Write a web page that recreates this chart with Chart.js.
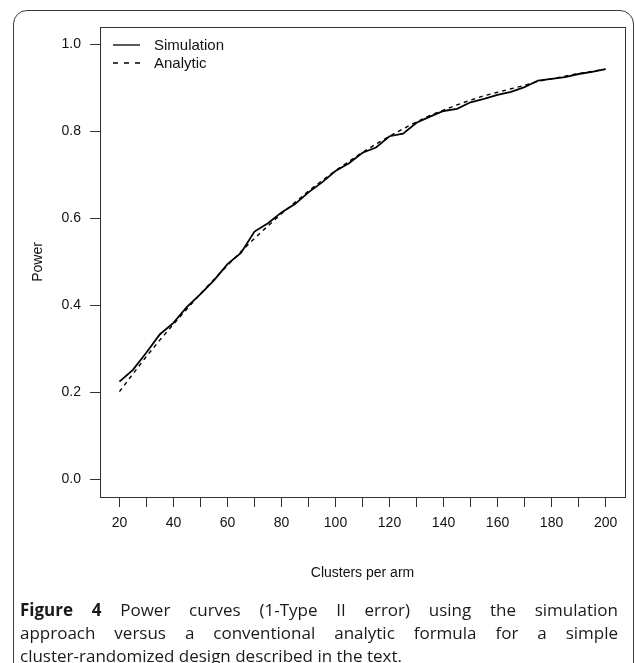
<!DOCTYPE html>
<html><head><meta charset="utf-8">
<script src="https://cdn.jsdelivr.net/npm/chart.js@4.4.1/dist/chart.umd.min.js"></script>
<style>
html,body{margin:0;padding:0;background:#fff;}
#wrap{position:relative;width:635px;height:663px;overflow:hidden;background:#fff;}
#frame{position:absolute;left:13px;top:10px;width:621px;height:720px;border:1.5px solid #3a3a3a;border-radius:14px;box-sizing:border-box;}
#c{position:absolute;left:0;top:0;}
#cap{position:absolute;left:20px;width:598px;top:598px;font-family:"Open Sans";font-size:17px;line-height:23px;color:#1a1a1a;}
#cap div.j{text-align:justify;text-align-last:justify;}
</style></head>
<body><div id="wrap"><div id="frame"></div><canvas id="c" width="635" height="663"></canvas>
<div id="cap"><div class="j"><b>Figure 4</b> Power curves (1-Type II error) using the simulation</div><div class="j">approach versus a conventional analytic formula for a simple</div><div>cluster-randomized design described in the text.</div></div></div>
<script>
const clusters = [20,25,30,35,40,45,50,55,60,65,70,75,80,85,90,95,100,105,110,115,120,125,130,135,140,145,150,155,160,165,170,175,180,185,190,195,200];
const simulation = [0.225,0.252,0.292,0.334,0.360,0.397,0.426,0.458,0.495,0.521,0.570,0.589,0.614,0.633,0.660,0.683,0.709,0.727,0.751,0.763,0.789,0.795,0.820,0.834,0.847,0.852,0.867,0.875,0.884,0.891,0.902,0.917,0.921,0.925,0.932,0.937,0.943];
const analytic = [0.202,0.243,0.283,0.321,0.357,0.392,0.427,0.460,0.492,0.524,0.554,0.583,0.611,0.637,0.663,0.687,0.710,0.731,0.752,0.771,0.789,0.806,0.822,0.837,0.849,0.861,0.872,0.882,0.890,0.898,0.906,0.915,0.921,0.927,0.933,0.938,0.943];
const xTicks = [20,30,40,50,60,70,80,90,100,110,120,130,140,150,160,170,180,190,200];
const xTickLabels = [20,40,60,80,100,120,140,160,180,200];
const yTicks = [0,0.2,0.4,0.6,0.8,1.0];
const seriesNames = ['Simulation','Analytic'];
const xTitle = 'Clusters per arm';
const yTitle = 'Power';

const FONT = '"Liberation Sans", Arial, sans-serif';
const INK = '#111';
const AXIS = '#333';

const boxPlugin = {
  id: 'plotBox',
  afterDatasetsDraw(chart) {
    const {ctx, chartArea: a} = chart;
    ctx.save();
    ctx.strokeStyle = AXIS;
    ctx.lineWidth = 1;
    ctx.strokeRect(a.left + 0.5, a.top + 0.5, a.right - a.left, a.bottom - a.top);
    ctx.restore();
  }
};
const legendPlugin = {
  id: 'rLegend',
  afterDatasetsDraw(chart) {
    const {ctx, chartArea: a} = chart;
    chart.data.datasets.forEach((ds, i) => {
      const y = a.top + 18 + i * 18;
      ctx.save();
      ctx.strokeStyle = ds.borderColor;
      ctx.lineWidth = 1.3;
      ctx.setLineDash(i === 1 ? [5, 6] : []);
      ctx.beginPath();
      ctx.moveTo(a.left + 13, y);
      ctx.lineTo(a.left + 40, y);
      ctx.stroke();
      ctx.setLineDash([]);
      ctx.fillStyle = INK;
      ctx.font = '15px ' + FONT;
      ctx.textBaseline = 'middle';
      ctx.fillText(ds.label, a.left + 54, y + 1);
      ctx.restore();
    });
  }
};

new Chart(document.getElementById('c'), {
  type: 'line',
  data: {
    datasets: [
      {label: seriesNames[0], data: clusters.map((x, i) => ({x, y: simulation[i]})), borderColor: '#000', borderWidth: 1.8, pointRadius: 0, tension: 0, fill: false},
      {label: seriesNames[1], data: clusters.map((x, i) => ({x, y: analytic[i]})), borderColor: '#000', borderWidth: 1.4, borderDash: [4, 4], pointRadius: 0, tension: 0, fill: false}
    ]
  },
  options: {
    responsive: false,
    animation: false,
    devicePixelRatio: 1,
    layout: {padding: {top: 27, right: 10, bottom: 0, left: 0}},
    plugins: {legend: {display: false}, tooltip: {enabled: false}},
    scales: {
      x: {
        type: 'linear', min: 12.8, max: 207.2,
        afterBuildTicks: s => { s.ticks = xTicks.map(v => ({value: v})); },
        afterFit: s => { s.height = 166; },
        ticks: {autoSkip: false, maxRotation: 0, padding: 8, color: INK, font: {family: FONT, size: 14},
          callback: v => xTickLabels.includes(v) ? String(v) : ''},
        grid: {drawOnChartArea: false, drawTicks: true, tickLength: 10, color: AXIS, lineWidth: 1},
        border: {display: false},
        title: {display: true, text: xTitle, color: INK, font: {family: FONT, size: 14}, padding: {top: 0, bottom: 81.6}}
      },
      y: {
        type: 'linear', min: -0.04, max: 1.04,
        afterBuildTicks: s => { s.ticks = yTicks.map(v => ({value: v})); },
        afterFit: s => { s.width = 100; },
        ticks: {padding: 9, color: INK, font: {family: FONT, size: 14}, callback: v => Number(v).toFixed(1)},
        grid: {drawOnChartArea: false, drawTicks: true, tickLength: 10, color: AXIS, lineWidth: 1},
        border: {display: false},
        title: {display: true, text: yTitle, color: INK, font: {family: FONT, size: 14}, padding: {top: 29.6, bottom: 0}}
      }
    }
  },
  plugins: [boxPlugin, legendPlugin]
});
</script>
</body></html>
